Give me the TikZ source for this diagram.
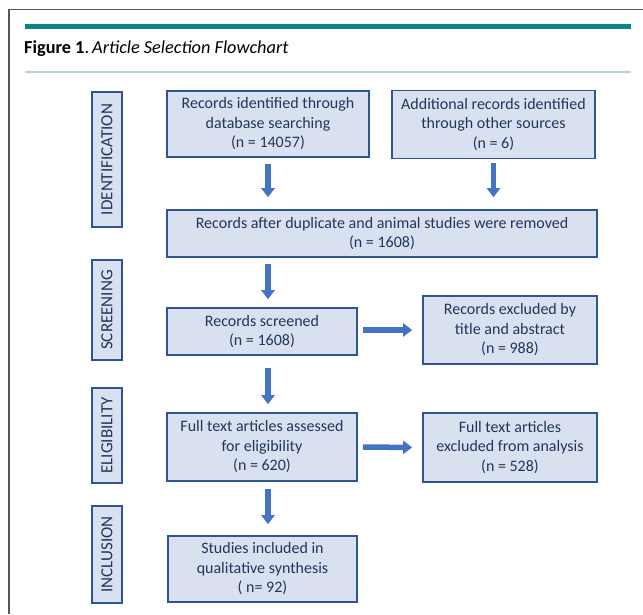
\documentclass[tikz,border=0pt]{standalone}
\usepackage{fontspec}
\setmainfont{Carlito}
\usetikzlibrary{arrows.meta}
\definecolor{boxfill}{HTML}{D9E1F1}
\definecolor{boxline}{HTML}{2F5597}
\definecolor{boxtext}{HTML}{22355A}
\definecolor{arrowblue}{HTML}{4472C4}
\definecolor{teal}{HTML}{0B8585}
\definecolor{lightrule}{HTML}{B3D6DC}
\definecolor{frame}{HTML}{555555}
\tikzset{
  flowbox/.style={draw=boxline, line width=1.6pt, fill=boxfill, text=boxtext,
    align=center, inner sep=2pt, font=\fontsize{16}{19.5}\selectfont},
  phasebox/.style={draw=boxline, line width=1.6pt, fill=boxfill, text=boxtext,
    rotate=90, inner sep=0pt, font=\fontsize{17}{19}\selectfont},
  flowarrow/.style={draw=arrowblue, line width=5.5pt,
    -{Triangle[width=13pt,length=9pt]}},
}
\begin{document}
\begin{tikzpicture}[x=1pt,y=-1pt]
\useasboundingbox (0,0) rectangle (643,614);
% frame, rules and title
\draw[frame, line width=1.4pt] (9,614) -- (9,9.5) -- (643,9.5);
\fill[teal] (25,23.5) rectangle (631,28.5);
\draw[lightrule, line width=1.4pt] (25,72) -- (631,72);
\node[anchor=base west, inner sep=0pt, font=\fontsize{18.3}{21}\selectfont, text=black] (title) at (24,53.5)
  {\textbf{Figure 1}.\,\textit{Article Selection Flowchart}};
% phase labels
\node[phasebox, minimum width=135pt, minimum height=30pt] (lid) at (107,159.5) {IDENTIFICATION};
\node[phasebox, minimum width=100pt, minimum height=30pt] (lscr) at (107,310) {SCREENING};
\node[phasebox, minimum width=95pt, minimum height=30pt] (lel) at (107,435.5) {ELIGIBILITY};
\node[phasebox, minimum width=97pt, minimum height=30pt] (lin) at (107,554.5) {INCLUSION};
% boxes
\node[flowbox, minimum width=202pt, minimum height=66pt] (b1) at (268,124)
  {Records identified through\\database searching\\(n = 14057)};
\node[flowbox, minimum width=203pt, minimum height=68pt] (b2) at (493.5,124.5)
  {Additional records identified\\through other sources\\(n = 6)};
\node[flowbox, minimum width=430pt, minimum height=47pt] (b3) at (382,233.5)
  {Records after duplicate and animal studies were removed\\(n = 1608)};
\node[flowbox, minimum width=190pt, minimum height=47pt] (b4) at (262,331.5)
  {Records screened\\(n = 1608)};
\node[flowbox, minimum width=174pt, minimum height=68pt] (b5) at (510,330)
  {Records excluded by\\title and abstract\\(n = 988)};
\node[flowbox, minimum width=190pt, minimum height=68pt] (b6) at (262,447)
  {Full text articles assessed\\for eligibility\\(n = 620)};
\node[flowbox, minimum width=174pt, minimum height=69pt] (b8) at (510,447.5)
  {Full text articles\\excluded from analysis\\(n = 528)};
\node[flowbox, minimum width=189pt, minimum height=66pt] (b7) at (262.5,569)
  {Studies included in\\qualitative synthesis\\( n= 92)};
% arrows
\draw[flowarrow, shorten <=6pt, shorten >=12pt] (b1.south) -- (b1.south |- b3.north);
\draw[flowarrow, shorten <=4pt, shorten >=12pt] (b2.south) -- (b2.south |- b3.north);
\draw[flowarrow, shorten <=6pt, shorten >=8pt] (b1.south |- b3.south) -- (b1.south |- b4.north);
\draw[flowarrow, shorten <=12pt, shorten >=8pt] (b1.south |- b4.south) -- (b1.south |- b6.north);
\draw[flowarrow, shorten <=7pt, shorten >=11pt] (b1.south |- b6.south) -- (b1.south |- b7.north);
\draw[flowarrow, shorten <=5pt, shorten >=10pt] (b4.east |- b5.west) -- (b5.west);
\draw[flowarrow, shorten <=5pt, shorten >=10pt] (b6.east) -- (b8.west);
\end{tikzpicture}
\end{document}
